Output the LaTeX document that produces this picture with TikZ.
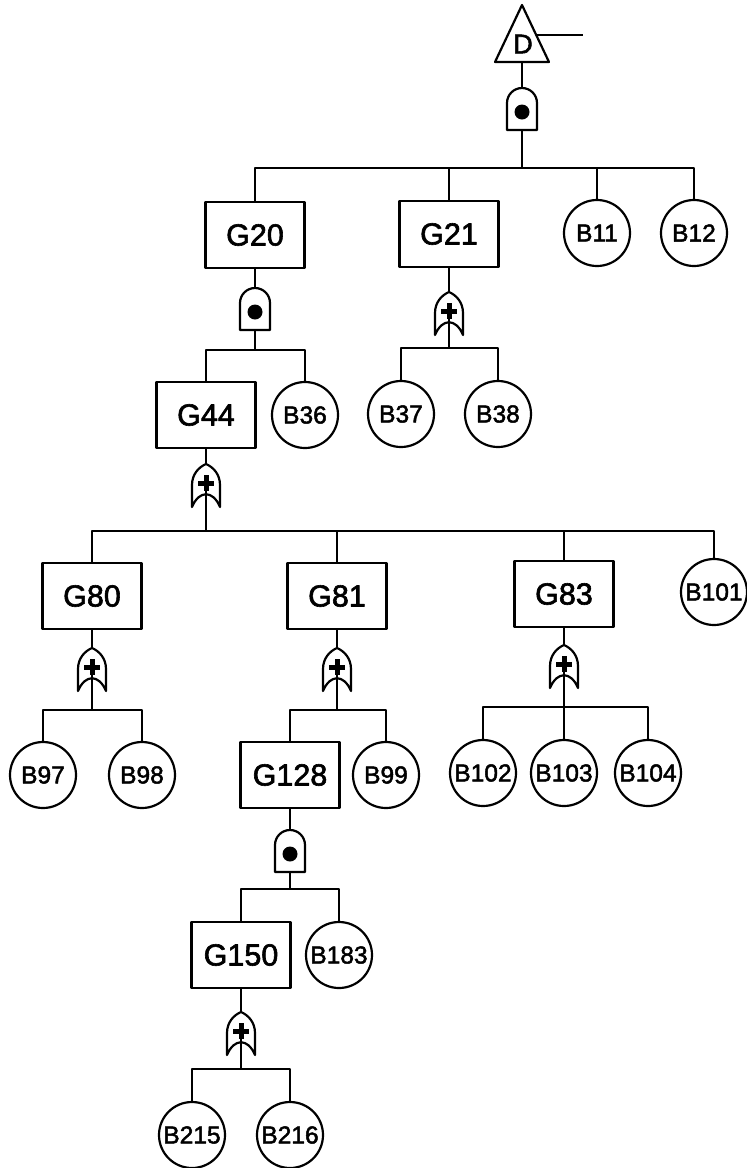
\documentclass[tikz,border=0pt]{standalone}
\usepackage{fontspec}
\setmainfont{Liberation Sans}
\newfontfamily\lblfont{Liberation Sans}[FakeBold=2]
\begin{document}
\begin{tikzpicture}[x=1pt,y=1pt,
  gl/.style={line width=2.2pt, line join=round},
  gatebox/.style={gl, draw, fill=white, minimum width=99pt, minimum height=66pt,
    inner sep=0pt, font=\lblfont\fontsize{30.5}{30.5}\selectfont},
  basic/.style={gl, draw, fill=white, circle, minimum size=66pt, inner sep=0pt,
    font=\lblfont\fontsize{24.5}{24.5}\selectfont},
  wire/.style={gl},
  andg/.pic={
    \draw[gl, fill=white] (-15,0) -- (-15,27)
      arc[start angle=180, end angle=0, radius=15pt] -- (15,0) -- cycle;
    \fill (0,18) circle[radius=7.5pt];
    \coordinate (-top) at (0,42);
    \coordinate (-stem) at (0,0);
  },
  org/.pic={
    \draw[gl, fill=white] (-14,0) -- (-14,22)
      .. controls (-14,33) and (-7,40) .. (0,43)
      .. controls (7,40) and (14,33) .. (14,22) -- (14,0)
      .. controls (7,17) and (-7,17) .. (-14,0) -- cycle;
    \fill (-8,21.5) rectangle (8,26.5);
    \fill (-2.5,16) rectangle (2.5,32);
    \coordinate (-top) at (0,43);
    \coordinate (-stem) at (0,16.5);
  }
]
\useasboundingbox (0,0) rectangle (747,-1168);

% transfer-in triangle for the top event
\draw[gl] (495,-62) -- (522,-5) -- (549,-62) -- cycle;
\draw[gl] (537,-35) -- (583,-35);
\node[font=\lblfont\fontsize{27}{27}\selectfont] (D) at (523,-44) {D};
\coordinate (Dbase) at (522,-62);

% gate boxes
\node[gatebox] (G20)  at (255,-235) {G20};
\node[gatebox] (G21)  at (449,-234) {G21};
\node[gatebox] (G44)  at (206,-415) {G44};
\node[gatebox] (G80)  at (92,-596)  {G80};
\node[gatebox] (G81)  at (337,-596) {G81};
\node[gatebox] (G83)  at (564,-594) {G83};
\node[gatebox] (G128) at (290,-775) {G128};
\node[gatebox] (G150) at (241,-955) {G150};

% basic events
\node[basic] (B11)  at (597,-233) {B11};
\node[basic] (B12)  at (694,-233) {B12};
\node[basic] (B36)  at (305,-415) {B36};
\node[basic] (B37)  at (401,-414) {B37};
\node[basic] (B38)  at (498,-414) {B38};
\node[basic] (B101) at (714,-592) {B101};
\node[basic] (B97)  at (43,-775)  {B97};
\node[basic] (B98)  at (142,-775) {B98};
\node[basic] (B99)  at (386,-775) {B99};
\node[basic] (B102) at (483,-773) {B102};
\node[basic] (B103) at (564,-773) {B103};
\node[basic] (B104) at (648,-773) {B104};
\node[basic] (B183) at (339,-955) {B183};
\node[basic] (B215) at (192,-1135) {B215};
\node[basic] (B216) at (290,-1135) {B216};

% logic gates (origin at the lower edge)
\pic (gD)   at (522,-130)  {andg};
\pic (g20)  at (255,-330)  {andg};
\pic (g21)  at (449,-335)  {org};
\pic (g44)  at (206,-507)  {org};
\pic (g80)  at (92,-691)   {org};
\pic (g81)  at (337,-691)  {org};
\pic (g83)  at (564,-688)  {org};
\pic (g128) at (290,-872)  {andg};
\pic (g150) at (241,-1055) {org};

% junctions of the input bars
\coordinate (jD)   at (522,-168);
\coordinate (j20)  at (255,-350);
\coordinate (j21)  at (449,-348);
\coordinate (j44)  at (206,-531);
\coordinate (j80)  at (92,-710);
\coordinate (j81)  at (337,-710);
\coordinate (j83)  at (564,-707);
\coordinate (j128) at (290,-889);
\coordinate (j150) at (241,-1069);

% outputs into gates
\draw[wire] (Dbase) -- (gD-top);
\draw[wire] (G20.south) -- (g20-top);
\draw[wire] (G21.south) -- (g21-top);
\draw[wire] (G44.south) -- (g44-top);
\draw[wire] (G80.south) -- (g80-top);
\draw[wire] (G81.south) -- (g81-top);
\draw[wire] (G83.south) -- (g83-top);
\draw[wire] (G128.south) -- (g128-top);
\draw[wire] (G150.south) -- (g150-top);

% gate stems down to the bars
\draw[wire] (gD-stem) -- (jD);
\draw[wire] (g20-stem) -- (j20);
\draw[wire] (g21-stem) -- (j21);
\draw[wire] (g44-stem) -- (j44);
\draw[wire] (g80-stem) -- (j80);
\draw[wire] (g81-stem) -- (j81);
\draw[wire] (g83-stem) -- (j83);
\draw[wire] (g128-stem) -- (j128);
\draw[wire] (g150-stem) -- (j150);

% bars out to the inputs
\draw[wire] (G20.north) |- (jD) -| (B12.north);
\draw[wire] (jD) -| (G21.north);
\draw[wire] (jD) -| (B11.north);
\draw[wire] (G44.north) |- (j20) -| (B36.north);
\draw[wire] (B37.north) |- (j21) -| (B38.north);
\draw[wire] (G80.north) |- (j44) -| (B101.north);
\draw[wire] (j44) -| (G81.north);
\draw[wire] (j44) -| (G83.north);
\draw[wire] (B97.north) |- (j80) -| (B98.north);
\draw[wire] (G128.north) |- (j81) -| (B99.north);
\draw[wire] (B102.north) |- (j83) -| (B104.north);
\draw[wire] (j83) -- (B103.north);
\draw[wire] (G150.north) |- (j128) -| (B183.north);
\draw[wire] (B215.north) |- (j150) -| (B216.north);
\end{tikzpicture}
\end{document}
